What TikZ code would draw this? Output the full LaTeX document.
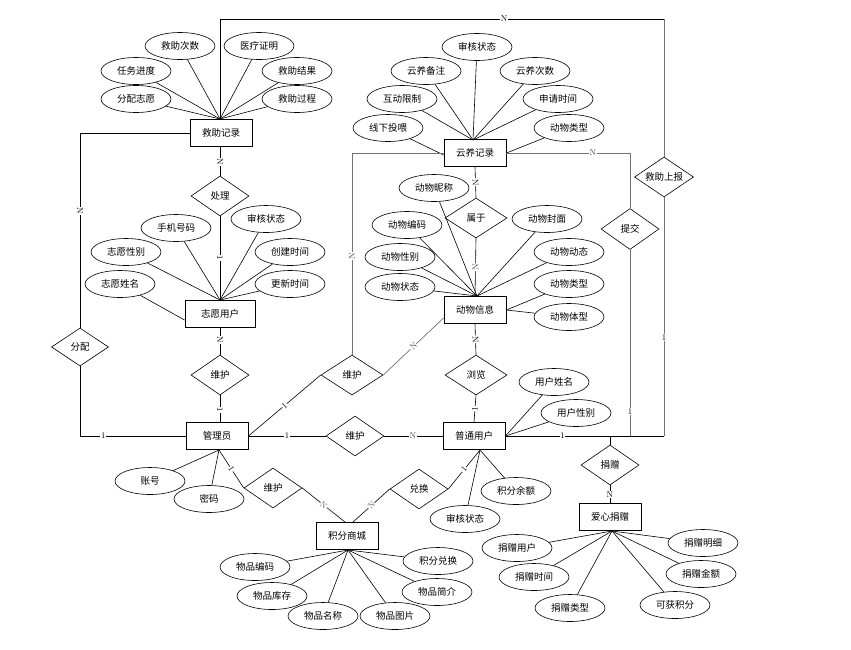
\documentclass[tikz,border=0pt]{standalone}
\usepackage{fontspec}
\newfontfamily\cjk{Noto Sans CJK SC}
\usetikzlibrary{shapes.geometric}
\newcommand\zw[1]{\makebox[0pt]{#1}}
\begin{document}
\begin{tikzpicture}[x=1pt,y=-1pt,
 ent/.style={draw, line width=0.9pt, minimum width=62pt, minimum height=27pt, inner sep=0pt, font=\cjk\fontsize{9.5}{11}\selectfont},
 attr/.style={ellipse, draw, line width=0.6pt, minimum width=70pt, minimum height=27pt, inner sep=0pt, font=\cjk\fontsize{9.5}{11}\selectfont},
 rel/.style={diamond, draw, line width=0.6pt, minimum width=58pt, minimum height=40pt, inner sep=0pt, font=\cjk\fontsize{9.5}{11}\selectfont},
 lbl/.style={font=\fontsize{8.5}{9}\selectfont, fill=white, inner sep=0.6pt},
 ln/.style={line width=0.6pt},
 gln/.style={line width=0.7pt, draw=black!55}
]
\useasboundingbox (0,0) rectangle (851,649);

% entities
\node[ent] (jz) at (221,133) {救助记录};
\node[ent] (yy) at (475,153) {云养记录};
\node[ent, minimum width=70pt] (zy) at (220,314) {志愿用户};
\node[ent] (dw) at (475,310) {动物信息};
\node[ent] (gl) at (217,436) {管理员};
\node[ent] (pt) at (474,436) {普通用户};
\node[ent] (jf) at (347,536) {积分商城};
\node[ent] (ax) at (610,517) {爱心捐赠};

% relations
\node[rel] (cl) at (220,196) {\zw{处理}};
\node[rel, minimum width=62pt] (sy) at (476,218) {\zw{属于}};
\node[rel, minimum width=57pt, minimum height=38pt] (fp) at (80,347) {\zw{分配}};
\node[rel] (wh1) at (220,375) {\zw{维护}};
\node[rel, minimum width=62pt] (wh2) at (352,375) {\zw{维护}};
\node[rel, minimum width=62pt] (ll) at (476,375) {\zw{浏览}};
\node[rel] (wh3) at (355,436) {\zw{维护}};
\node[rel, minimum height=41pt] (tj) at (630,229) {\zw{提交}};
\node[rel, minimum width=59pt] (jzsb) at (664,177) {\zw{救助上报}};
\node[rel] (jz2) at (610,465) {\zw{捐赠}};
\node[rel] (wh4) at (273,488) {\zw{维护}};
\node[rel] (dh) at (419,489) {\zw{兑换}};

% attributes of 救助记录
\node[attr] (j1) at (180,46) {救助次数};
\node[attr] (j2) at (259,46) {医疗证明};
\node[attr] (j3) at (136,71) {任务进度};
\node[attr] (j4) at (297,71) {救助结果};
\node[attr] (j5) at (136,99) {分配志愿};
\node[attr] (j6) at (297,99) {救助过程};
\coordinate (jzt) at (220,119);
\foreach \n in {j1,j2,j3,j4,j5,j6} \draw[ln] (\n) -- (jzt);

% attributes of 云养记录
\node[attr] (y1) at (477,47) {审核状态};
\node[attr] (y2) at (426,71) {云养备注};
\node[attr] (y3) at (535,71) {云养次数};
\node[attr] (y4) at (402,99) {互动限制};
\node[attr] (y5) at (558,99) {申请时间};
\node[attr] (y6) at (388,128) {线下投喂};
\node[attr] (y7) at (569,128) {动物类型};
\coordinate (yyt) at (473,140);
\foreach \n in {y1,y2,y3,y4,y5} \draw[ln] (\n) -- (yyt);
\draw[ln] (y6) -- ([yshift=-2pt]yy.west);
\draw[ln] (y7) -- (yy.east);

% attributes of 动物信息
\node[attr] (d1) at (434,188) {动物昵称};
\node[attr] (d2) at (407,225) {动物编码};
\node[attr] (d3) at (547,219) {动物封面};
\node[attr] (d4) at (400,257) {动物性别};
\node[attr] (d5) at (569,252) {动物动态};
\node[attr] (d6) at (400,287) {动物状态};
\node[attr] (d7) at (569,284) {动物类型};
\node[attr] (d8) at (569,317) {动物体型};
\coordinate (dwt) at (477,296);
\foreach \n in {d1,d2,d3,d4,d5,d6} \draw[ln] (\n) -- (dwt);
\draw[ln] (d7) -- (dw.east);
\draw[ln] (d8) -- (dw.east);

% attributes of 志愿用户
\node[attr] (z1) at (176,228) {手机号码};
\node[attr] (z2) at (266,219) {审核状态};
\node[attr] (z3) at (126,252) {志愿性别};
\node[attr] (z4) at (290,252) {创建时间};
\node[attr] (z5) at (120,284) {志愿姓名};
\node[attr] (z6) at (290,284) {更新时间};
\coordinate (zyt) at (220,300);
\foreach \n in {z1,z2,z3,z4,z6} \draw[ln] (\n) -- (zyt);
\draw[ln] (z5) -- ([yshift=-6pt]zy.west);

% attributes of 普通用户
\node[attr] (p1) at (554,382) {用户姓名};
\node[attr] (p2) at (576,413) {用户性别};
\node[attr] (p3) at (465,519) {审核状态};
\node[attr] (p4) at (516,491) {积分余额};
\draw[ln] (p1) -- (pt.east);
\draw[ln] (p2) -- (pt.east);
\coordinate (ptb) at (480,450);
\draw[ln] (p3) -- (ptb);
\draw[ln] (p4) -- (ptb);

% attributes of 管理员
\node[attr] (g1) at (150,481) {账号};
\node[attr] (g2) at (209,499) {密码};
\coordinate (glb) at (219,450);
\draw[ln] (g1) -- (glb);
\draw[ln] (g2) -- (glb);

% attributes of 积分商城
\node[attr] (s1) at (255,567) {物品编码};
\node[attr] (s2) at (438,561) {积分兑换};
\node[attr] (s3) at (272,596) {物品库存};
\node[attr] (s4) at (437,592) {物品简介};
\node[attr] (s5) at (323,616) {物品名称};
\node[attr] (s6) at (395,616) {物品图片};
\coordinate (jfb) at (348,550);
\foreach \n in {s1,s2,s3,s4,s5,s6} \draw[ln] (\n) -- (jfb);

% attributes of 爱心捐赠
\node[attr] (c1) at (517,548) {捐赠用户};
\node[attr] (c2) at (703,543) {捐赠明细};
\node[attr] (c3) at (534,577) {捐赠时间};
\node[attr] (c4) at (701,574) {捐赠金额};
\node[attr] (c5) at (570,608) {捐赠类型};
\node[attr] (c6) at (675,605) {可获积分};
\coordinate (axb) at (612,531);
\foreach \n in {c1,c2,c3,c4,c5,c6} \draw[ln] (\n) -- (axb);

% relationship connectors
\coordinate (tr) at (664,19);
\draw[ln] (jzt) |- node[lbl, pos=0.82] {N} (tr);
\draw[gln] (tr) -- (jzsb.north);
\coordinate (br) at (664,436);
\coordinate (b630) at (630,436);
\coordinate (b610) at (610,436);
\draw[gln] (jzsb.south) -- node[lbl, pos=0.586, text=black] {1} (br);
\draw[ln] (pt.east) -- node[lbl, pos=0.36] {1} (br);
\draw[gln] (yy.east) -| node[lbl, pos=0.35, text=black!70] {N} (tj.north);
\draw[gln] (tj.south) -- node[lbl, pos=0.87, text=black] {1} (b630);
\draw[ln] (b610) -- (jz2.north);
\draw[ln] (jz2.south) -- node[lbl, pos=0.5] {N} (ax.north);

\draw[ln] (jz.west) -| node[lbl, pos=0.7, sloped] {N} (fp.north);
\draw[ln] (fp.south) |- node[lbl, pos=0.61] {1} (gl.west);
\draw[ln] (jz.south -| cl.north) -- node[lbl, pos=0.53, sloped] {N} (cl.north);
\draw[ln] (cl.south) -- node[lbl, pos=0.5, sloped] {1} (zy.north);
\draw[ln] (zy.south) -- node[lbl, pos=0.46, sloped] {N} (wh1.north);
\draw[ln] (wh1.south) -- node[lbl, pos=0.54, sloped] {1} (wh1.south |- gl.north);

\draw[ln] (gl.east) -- node[lbl, pos=0.5] {1} (wh3.west);
\draw[ln] (wh3.east) -- node[lbl, pos=0.49, text=black!70] {N} (pt.west);
\draw[ln] (gl.east) -- node[lbl, pos=0.5, sloped] {1} (wh2.west);
\draw[gln] (wh2.east) -- node[lbl, pos=0.5, sloped, text=black!70] {N} ([yshift=-8pt]dw.west);
\draw[gln] (wh2.north) |- node[lbl, pos=0.245, sloped, text=black!70] {N} (yy.west);

\draw[ln] (yy.south) -- node[lbl, pos=0.5, sloped] {N} (sy.north);
\draw[ln] (sy.south) -- node[lbl, pos=0.5, sloped, text=black!70] {N} (dw.north);
\draw[ln] (dw.south) -- node[lbl, pos=0.5, sloped] {N} (ll.north);
\draw[ln] (ll.south) -- node[lbl, pos=0.5, sloped] {1} (pt.north);

\draw[ln] (glb) -- node[lbl, pos=0.5, sloped] {1} (wh4.west);
\draw[ln] (wh4.east) -- node[lbl, pos=0.5, sloped, text=black!60] {N} ([xshift=-2pt]jf.north);
\draw[ln] ([xshift=6pt]jf.north) -- node[lbl, pos=0.5, sloped, text=black!60] {N} (dh.west);
\draw[ln] (dh.east) -- node[lbl, pos=0.5, sloped] {1} (ptb);
\end{tikzpicture}
\end{document}
